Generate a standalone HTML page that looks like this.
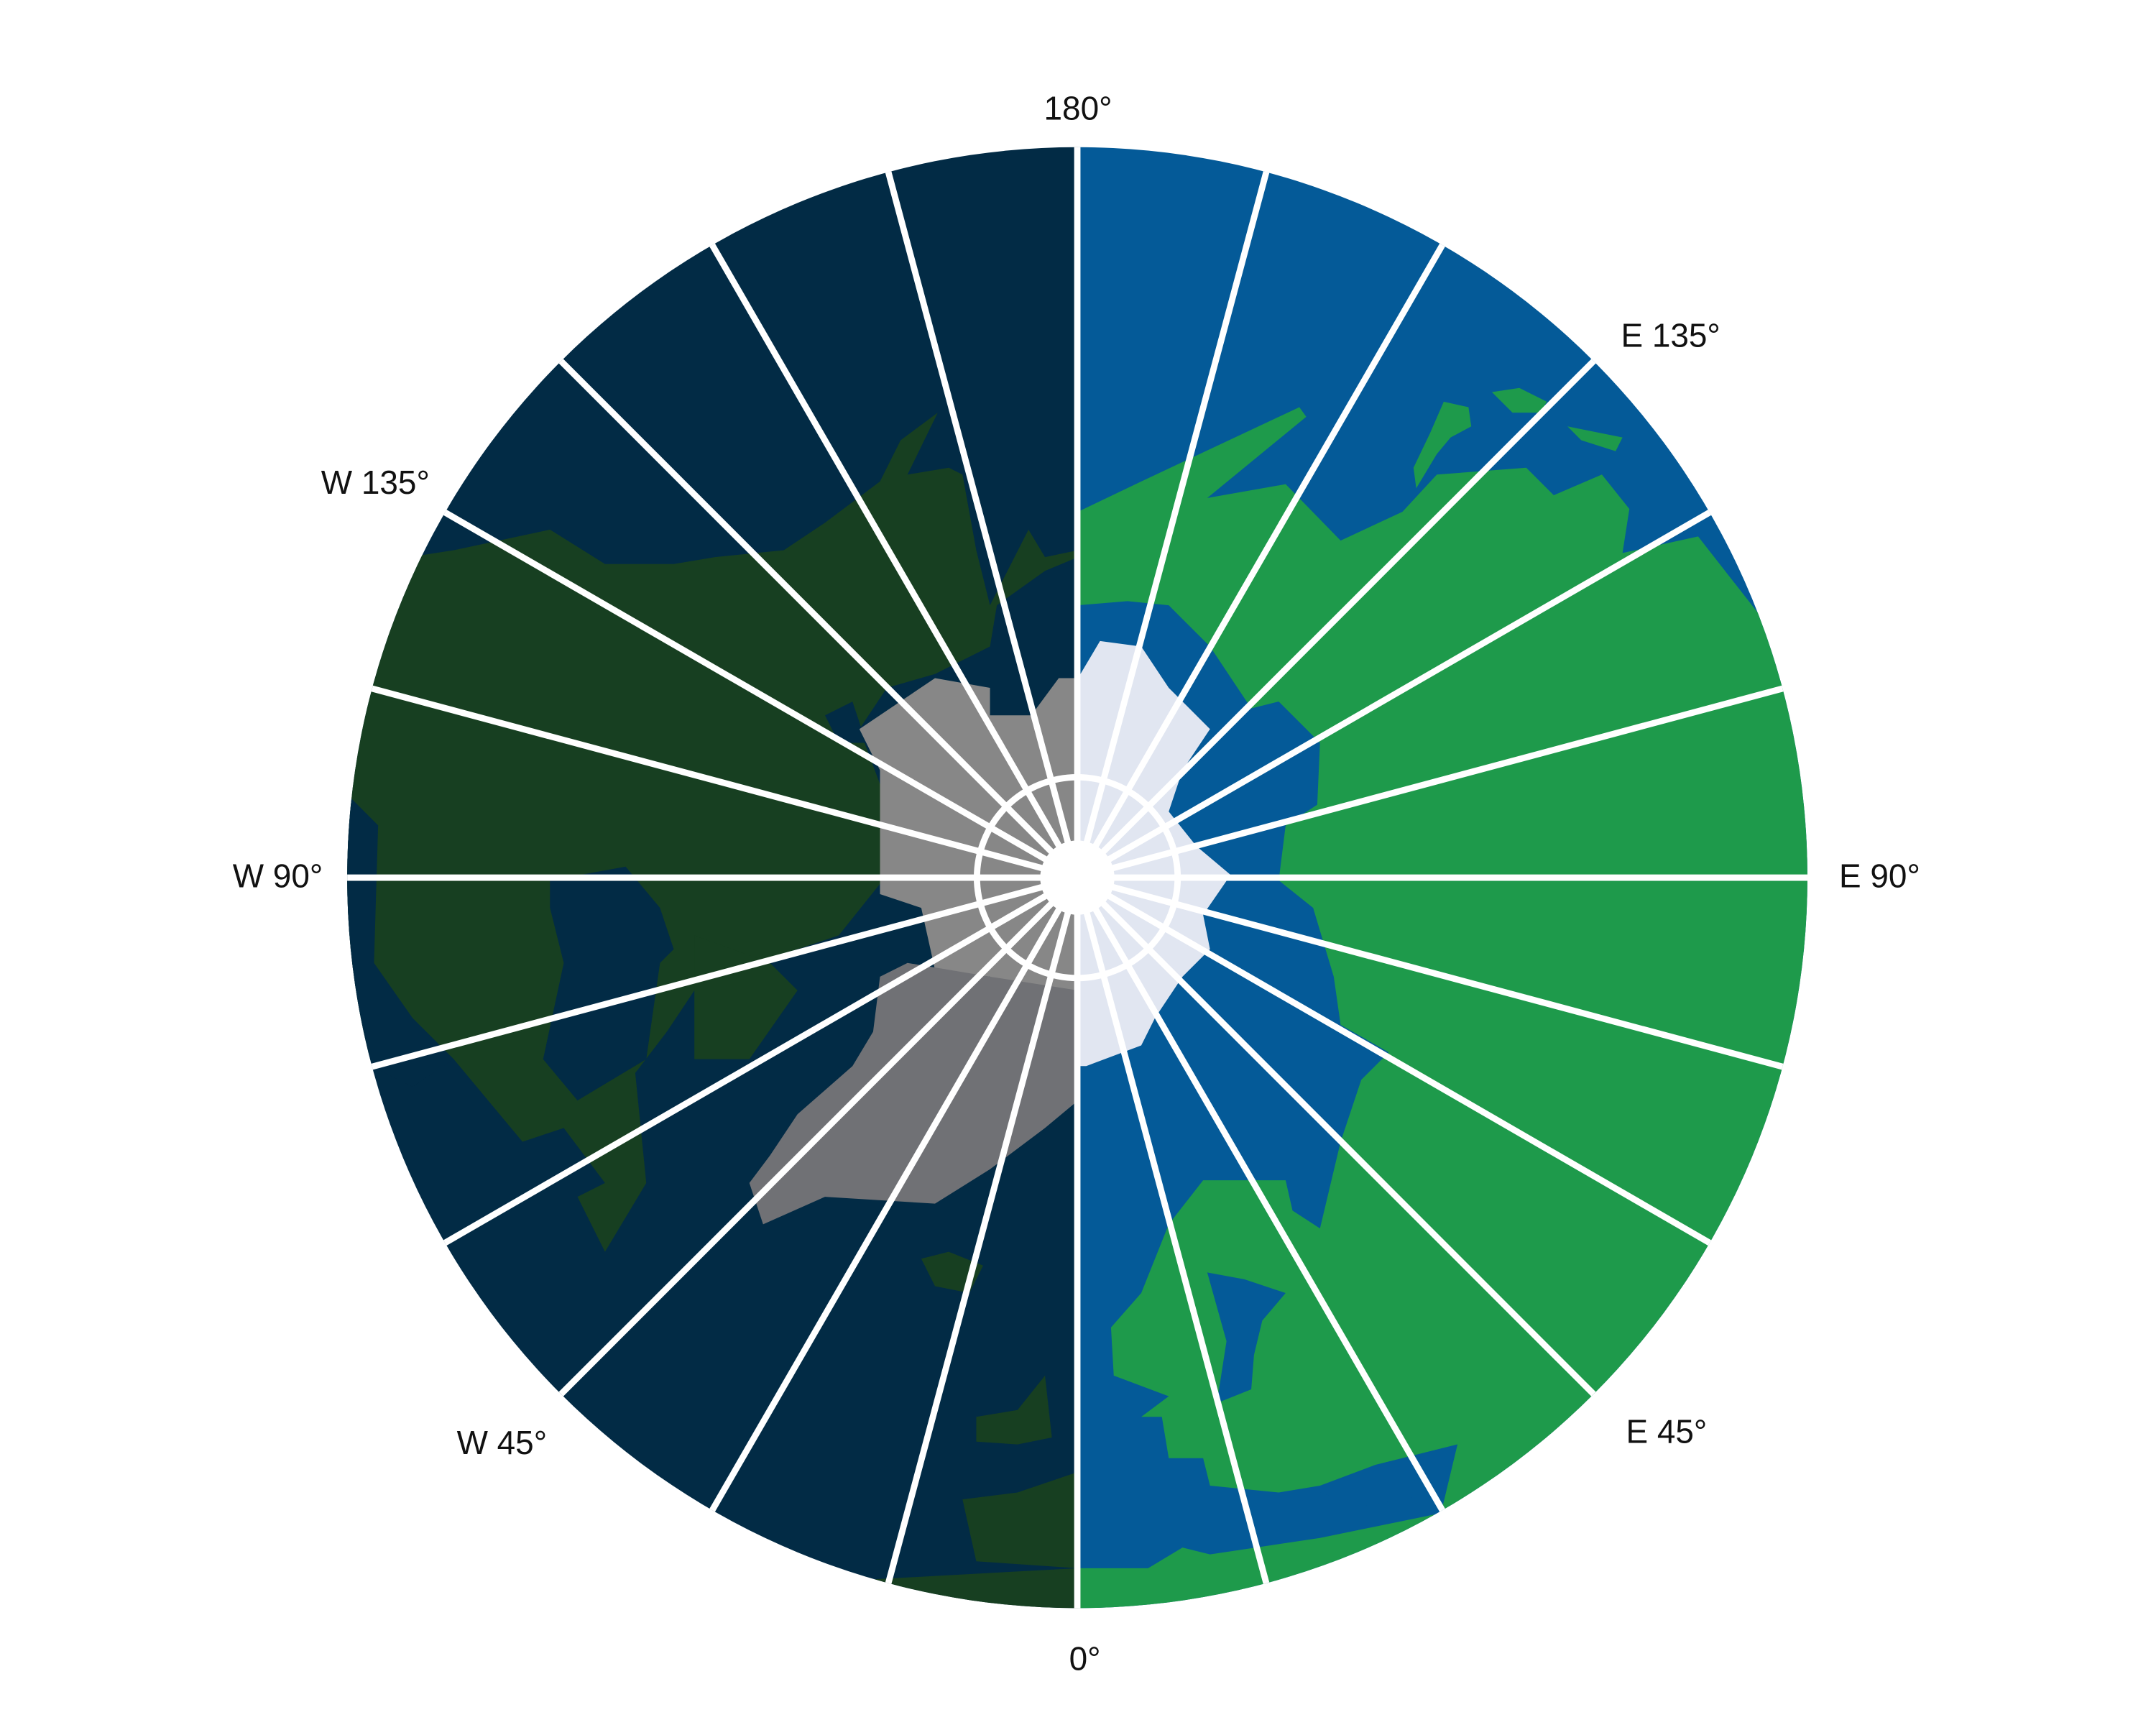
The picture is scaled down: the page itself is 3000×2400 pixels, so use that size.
<!DOCTYPE html>
<html><head><meta charset="utf-8"><style>
html,body{margin:0;padding:0;background:#fff;}
svg{display:block;}
text{font-family:"Liberation Sans","DejaVu Sans",sans-serif;font-size:24px;fill:#111;}
</style></head><body>
<svg id="chart" width="3000" height="2400" viewBox="0 0 1568 1254" preserveAspectRatio="none" xmlns="http://www.w3.org/2000/svg">
<defs><clipPath id="disk"><circle cx="783.5" cy="638" r="531"/></clipPath></defs>
<g clip-path="url(#disk)">
  <rect x="0" y="0" width="784" height="1254" fill="#022b45"/>
  <rect x="784" y="0" width="784" height="1254" fill="#045a98"/>
  <g fill="#1e9a4b">
    <polygon points="784,372 830,350 945,296 950,303 878,362 935,352 975,393 1020,372 1045,345 1110,340 1130,360 1165,345 1185,370 1180,402 1235,390 1282,450 1400,440 1400,1300 784,1300 784,1140 835,1140 860,1125 880,1130 960,1118 1048,1100 1060,1050 1000,1065 1030,1024 1063,1025 1085,997 1160,1015 1085,997 1063,1025 1030,1024 1000,1065 960,1080 930,1085 880,1080 875,1060 850,1060 845,1030 830,1030 850,1015 810,1000 808,965 830,940 850,890 875,858 935,858 940,880 960,893 975,830 990,785 1010,765 975,745 970,710 955,660 930,640 935,600 958,585 960,540 930,510 910,515 880,470 850,440 820,437 784,440"/>
    <polygon points="1050,292 1068,296 1070,310 1055,318 1045,330 1030,355 1028,340 1040,315"/>
    <polygon points="1085,285 1105,282 1125,292 1120,300 1100,300"/>
    <polygon points="1140,310 1180,318 1175,328 1150,320"/>
  </g>
  <g fill="#045a98">
    <polygon points="878,925 905,930 935,940 918,960 912,985 910,1010 885,1020 892,975"/>
    <polygon points="1000,1065 1060,1050 1048,1085 990,1095 960,1085"/>
  </g>
  <g fill="#173f21">
    <polygon points="784,372 784,400 760,405 748,385 720,440 710,400 700,345 690,340 660,345 682,300 655,320 640,350 600,380 570,400 520,405 490,410 440,410 400,385 330,400 200,420 200,800 255,780 295,740 330,770 380,830 410,820 440,860 420,870 440,910 470,860 462,780 485,750 505,720 545,700 580,690 610,680 650,630 640,570 625,530 645,500 680,490 720,470 725,440 760,415 784,405"/>
    <polygon points="505,680 560,700 580,720 545,770 505,770"/>
    <polygon points="670,915 690,910 715,920 705,940 680,935"/>
    <polygon points="710,1030 740,1025 760,1000 765,1045 740,1050 710,1048"/>
    <polygon points="700,1090 740,1085 784,1070 784,1140 710,1135"/>
    <polygon points="600,1150 784,1140 784,1260 600,1260"/>
  </g>
  <g fill="#022b45">
    <polygon points="400,640 455,630 480,660 490,690 480,700 470,770 420,800 395,770 410,700 400,660"/>
    <polygon points="255,580 275,600 272,700 300,740 330,770 300,790 240,760 240,600"/>
    <polygon points="600,520 620,510 630,540 610,540"/>
  </g>
  <g>
    <polygon fill="#878787" points="625,530 680,493 720,500 720,520 750,520 770,493 784,493 784,800 720,710 680,705 670,660 640,650 640,560"/>
    <polygon fill="#707175" points="660,700 720,710 784,720 784,800 760,820 720,850 680,875 600,870 555,890 545,860 560,840 580,810 620,775 635,750 640,710"/>
  </g>
  <polygon fill="#e1e6f1" points="784,493 800,466 830,470 850,500 880,530 860,560 850,590 870,615 895,636 875,665 880,690 860,710 840,740 830,760 790,775 784,775"/>
</g>
<g id="grid"></g>
<g id="labels">
  <text x="784" y="87" text-anchor="middle">180°</text>
  <text x="1215" y="252" text-anchor="middle">E 135°</text>
  <text x="1367" y="645" text-anchor="middle">E 90°</text>
  <text x="1212" y="1049" text-anchor="middle">E 45°</text>
  <text x="789" y="1214" text-anchor="middle">0°</text>
  <text x="365" y="1057" text-anchor="middle">W 45°</text>
  <text x="202" y="645" text-anchor="middle">W 90°</text>
  <text x="273" y="359" text-anchor="middle">W 135°</text>
</g>
</svg>
<script>
const spokeLongitudes = [0,15,30,45,60,75,90,105,120,135,150,165,180,195,210,225,240,255,270,285,300,315,330,345];
const ringRadii = [73];
const outerRadius = 531;
const cx = 783.5, cy = 638;
const NS = "http://www.w3.org/2000/svg";
const grid = document.getElementById('grid');
function px(lon, r){ const a = lon*Math.PI/180; return [cx + r*Math.sin(a), cy + r*Math.cos(a)]; }
spokeLongitudes.forEach(function(lon){
  const p = px(lon, outerRadius);
  const l = document.createElementNS(NS,'line');
  l.setAttribute('x1',cx); l.setAttribute('y1',cy);
  l.setAttribute('x2',p[0]); l.setAttribute('y2',p[1]);
  l.setAttribute('stroke','#fff'); l.setAttribute('stroke-width','4.6');
  
  
  grid.appendChild(l);
});
ringRadii.forEach(function(r){
  const c = document.createElementNS(NS,'circle');
  c.setAttribute('cx',cx); c.setAttribute('cy',cy); c.setAttribute('r',r);
  c.setAttribute('fill','none'); c.setAttribute('stroke','#fff'); c.setAttribute('stroke-width','4.6');
  
  
  grid.appendChild(c);
});
const hub = document.createElementNS(NS,'circle');
hub.setAttribute('cx',cx); hub.setAttribute('cy',cy); hub.setAttribute('r',27);
hub.setAttribute('fill','#fff');


grid.appendChild(hub);
</script>
</body></html>
